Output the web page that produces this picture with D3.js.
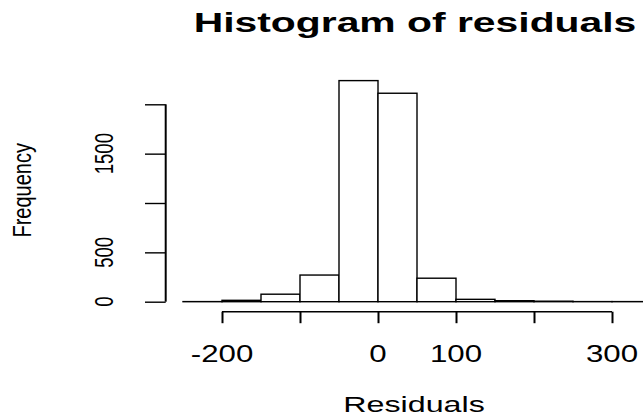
<!DOCTYPE html>
<html>
<head>
<meta charset="utf-8">
<script src="https://cdn.jsdelivr.net/npm/d3@7"></script>
<style>
  html, body { margin: 0; padding: 0; background: #fff; }
  svg { display: block; }
  text { font-family: "Liberation Sans", Arial, Helvetica, sans-serif; fill: #000; }
</style>
</head>
<body>
<svg id="chart" width="643" height="417"></svg>
<script>
// Histogram bins (width 50) and their counts
const binStarts = [-250, -200, -150, -100, -50, 0, 50, 100, 150, 200, 250, 300];
const binWidth = 50;
const counts = [1, 14, 76, 270, 2240, 2112, 238, 24, 10, 5, 1, 1];

// Axis ticks and which of them carry a label
const xTicks = [-200, -100, 0, 100, 200, 300];
const xTickLabels = ["-200", "", "0", "100", "", "300"];
const yTicks = [0, 500, 1000, 1500, 2000];
const yTickLabels = ["0", "500", "", "1500", ""];

const titleText = "Histogram of residuals";
const xTitle = "Residuals";
const yTitle = "Frequency";

const svg = d3.select("#chart");

const x = d3.scaleLinear().domain([-200, 300]).range([222, 612]);
const y = d3.scaleLinear().domain([0, 2000]).range([301.7, 104.3]);

const bins = binStarts.map((s, i) => ({ x0: s, x1: s + binWidth, n: counts[i] }));

// Bars
svg.append("g")
  .selectAll("rect")
  .data(bins)
  .join("rect")
  .attr("x", d => x(d.x0))
  .attr("width", d => x(d.x1) - x(d.x0))
  .attr("y", d => y(d.n))
  .attr("height", d => y(0) - y(d.n))
  .attr("fill", "#fff")
  .attr("stroke", "#000")
  .attr("stroke-width", 1.4);

// X axis (drawn below the bars, as in base graphics)
const xAxis = d3.axisBottom(x)
  .tickValues(xTicks)
  .tickSize(11.5)
  .tickFormat(() => "");
const gx = svg.append("g")
  .attr("transform", "translate(0,311.7)")
  .call(xAxis);
gx.select(".domain").attr("d", `M${x(-200)},0H${x(300)}`).attr("stroke-width", 1.4);
gx.selectAll(".tick line").attr("stroke-width", 2);

svg.append("g")
  .selectAll("text")
  .data(xTicks.map((v, i) => ({ v, label: xTickLabels[i] })).filter(d => d.label))
  .join("text")
  .attr("transform", d => `translate(${x(d.v)},362) scale(1.33,1)`)
  .attr("text-anchor", "middle")
  .attr("font-size", 23.5)
  .text(d => d.label);

// Y axis
const yAxis = d3.axisLeft(y)
  .tickValues(yTicks)
  .tickSize(20.7)
  .tickFormat(() => "");
const gy = svg.append("g")
  .attr("transform", "translate(165.7,0)")
  .call(yAxis);
gy.select(".domain").attr("d", `M0,${y(0)}V${y(2000)}`).attr("stroke-width", 2);
gy.selectAll(".tick line").attr("stroke-width", 1.4);

svg.append("g")
  .selectAll("text")
  .data(yTicks.map((v, i) => ({ v, label: yTickLabels[i] })).filter(d => d.label))
  .join("text")
  .attr("transform", d => `translate(113,${y(d.v)}) scale(1.38,1) rotate(-90)`)
  .attr("text-anchor", "middle")
  .attr("font-size", 18.6)
  .text(d => d.label);

// Titles
svg.append("text")
  .attr("transform", "translate(415,31.7) scale(1.46,1)")
  .attr("text-anchor", "middle")
  .attr("font-size", 28)
  .attr("font-weight", "bold")
  .text(titleText);

svg.append("text")
  .attr("transform", "translate(414,411.7) scale(1.5,1)")
  .attr("text-anchor", "middle")
  .attr("font-size", 21.5)
  .text(xTitle);

svg.append("text")
  .attr("transform", "translate(31,190.3) scale(1.3,1) rotate(-90)")
  .attr("text-anchor", "middle")
  .attr("font-size", 20)
  .text(yTitle);
</script>
</body>
</html>
